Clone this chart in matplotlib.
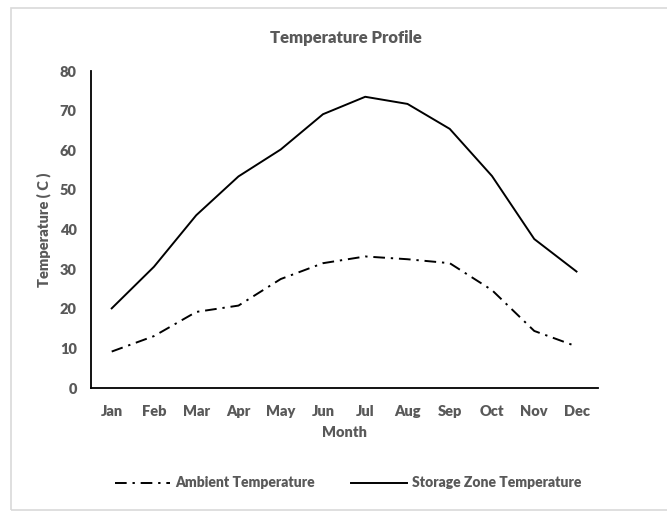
import matplotlib
matplotlib.use("Agg")
import matplotlib.pyplot as plt
from matplotlib.patches import Rectangle

months = ['Jan', 'Feb', 'Mar', 'Apr', 'May', 'Jun', 'Jul', 'Aug', 'Sep', 'Oct', 'Nov', 'Dec']
ambient = [9.2, 13.1, 19.2, 20.8, 27.5, 31.5, 33.2, 32.5, 31.5, 24.7, 14.4, 10.5]
storage = [20.1, 30.6, 43.6, 53.4, 60.2, 69.1, 73.5, 71.7, 65.4, 53.5, 37.6, 29.4]
yticks = [0, 10, 20, 30, 40, 50, 60, 70, 80]

plt.rcParams['font.family'] = ['Lato', 'DejaVu Sans']
GREY = '#595959'

fig = plt.figure(figsize=(6.67, 5.11), dpi=100)
ax = fig.add_axes([0.1358, 0.2407, 0.7602, 0.6203])

# chart area border (Excel style)
fig.patches.append(Rectangle((11 / 667, 1 / 511), 1.0, 502 / 511, transform=fig.transFigure,
                             fill=False, edgecolor='#d9d9d9', linewidth=1.2))

x = range(len(months))
ax.plot(x, ambient, color='black', linewidth=1.4, linestyle=(0, (6, 3, 1.2, 3)),
        label='Ambient Temperature')
ax.plot(x, storage, color='black', linewidth=1.4, label='Storage Zone Temperature')

ax.set_xlim(-0.5, 11.5)
ax.set_ylim(0, 80)
ax.set_xticks(list(x))
ax.set_xticklabels(months)
ax.set_yticks(yticks)

for side in ['top', 'right']:
    ax.spines[side].set_visible(False)
for side in ['left', 'bottom']:
    ax.spines[side].set_color('black')
    ax.spines[side].set_linewidth(1.3)

ax.tick_params(length=0, labelsize=10.5, labelcolor=GREY)
ax.tick_params(axis='x', pad=12)
ax.tick_params(axis='y', pad=10)
for lbl in ax.get_xticklabels() + ax.get_yticklabels():
    lbl.set_fontweight('heavy')

ax.set_xlabel('Month', fontsize=10.5, fontweight='heavy', color=GREY, labelpad=6)
ax.set_ylabel('Temperature ( C )', fontsize=10.5, fontweight='heavy', color=GREY, labelpad=6)
fig.text(0.519, 0.925, 'Temperature Profile', ha='center', va='center',
         fontsize=12, fontweight='heavy', color=GREY)

leg = fig.legend(loc='center', bbox_to_anchor=(0.522, 0.055), ncol=2, frameon=False,
                 prop={'weight': 'heavy', 'size': 10}, handlelength=4.0,
                 handletextpad=0.4, columnspacing=2.6)
for t in leg.get_texts():
    t.set_color(GREY)

fig.savefig('out.png', dpi=100)
